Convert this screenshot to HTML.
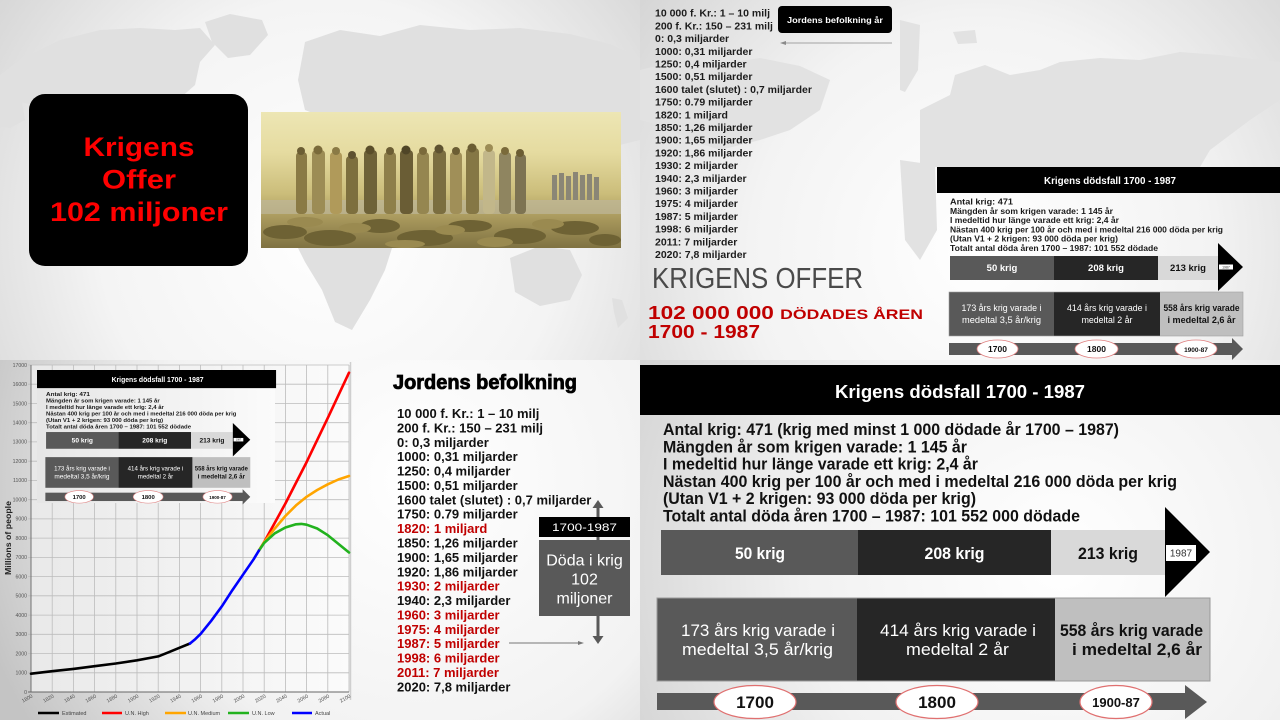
<!DOCTYPE html>
<html><head><meta charset="utf-8"><style>
html,body{margin:0;padding:0;background:#fff;}
svg{display:block;}
</style></head><body>
<svg width="1280" height="720" viewBox="0 0 1280 720" xmlns="http://www.w3.org/2000/svg" font-family="'Liberation Sans', Arial, sans-serif">
<defs>
 <radialGradient id="gTL" cx="330" cy="230" r="420" gradientUnits="userSpaceOnUse">
  <stop offset="0" stop-color="#ffffff"/><stop offset="0.55" stop-color="#f4f4f4"/><stop offset="1" stop-color="#d4d4d4"/>
 </radialGradient>
 <radialGradient id="gTR" cx="980" cy="250" r="420" gradientUnits="userSpaceOnUse">
  <stop offset="0" stop-color="#ffffff"/><stop offset="0.55" stop-color="#f3f3f3"/><stop offset="1" stop-color="#d6d6d6"/>
 </radialGradient>
 <radialGradient id="gBL" cx="420" cy="480" r="460" gradientUnits="userSpaceOnUse">
  <stop offset="0" stop-color="#ffffff"/><stop offset="0.6" stop-color="#f2f2f2"/><stop offset="1" stop-color="#c4c4c4"/>
 </radialGradient>
 <radialGradient id="gBR" cx="1060" cy="560" r="520" gradientUnits="userSpaceOnUse">
  <stop offset="0" stop-color="#ffffff"/><stop offset="0.5" stop-color="#f1f1f1"/><stop offset="1" stop-color="#cdcdcd"/>
 </radialGradient>
 <linearGradient id="gPlot" x1="0" y1="0" x2="1" y2="0">
  <stop offset="0" stop-color="#e9e9e9"/><stop offset="1" stop-color="#fbfbfb"/>
 </linearGradient>
 <linearGradient id="gMini" x1="0" y1="0" x2="1" y2="0">
  <stop offset="0" stop-color="#e6e6e6"/><stop offset="1" stop-color="#fbfbfb"/>
 </linearGradient>
 <linearGradient id="gPaint" x1="0" y1="0" x2="0" y2="1">
  <stop offset="0" stop-color="#ede6b4"/><stop offset="0.3" stop-color="#e5dba0"/><stop offset="0.6" stop-color="#cbbd7a"/><stop offset="0.8" stop-color="#a5955a"/><stop offset="1" stop-color="#7f7242"/>
 </linearGradient>
</defs>

<!-- ============ TOP LEFT ============ -->
<rect x="0" y="0" width="640" height="360" fill="url(#gTL)"/>
<g fill="#e0e0e0">
 <path d="M20,60 L60,40 L100,30 L140,28 L175,30 L200,28 L215,45 L200,62 L195,85 L178,100 L160,115 L140,128 L118,133 L100,125 L80,118 L55,110 L30,104 L10,100 L0,95 L0,75 Z"/>
 <path d="M205,22 L230,14 L262,20 L268,35 L250,55 L228,58 L212,42 Z"/>
 <path d="M305,42 L340,30 L380,36 L420,25 L470,30 L520,28 L570,34 L610,44 L640,58 L640,140 L600,150 L560,140 L520,130 L480,126 L440,132 L400,130 L360,125 L330,120 L305,110 L298,80 Z"/>
 <path d="M298,248 L392,248 L385,270 L370,300 L352,330 L335,322 L322,290 L305,262 Z"/>
 <path d="M510,258 L540,246 L570,250 L582,275 L570,300 L540,306 L515,292 Z"/>
 <path d="M612,298 L622,300 L628,318 L618,328 L614,312 Z"/>
 <path d="M0,95 L20,92 L25,120 L10,128 L0,126 Z"/>
</g>
<rect x="29" y="94" width="219" height="172" rx="16" fill="#000"/>
<g font-weight="bold" font-size="27" fill="#ff0000" text-anchor="middle">
 <text x="139" y="156" textLength="111" lengthAdjust="spacingAndGlyphs">Krigens</text>
 <text x="139" y="188.5" textLength="74" lengthAdjust="spacingAndGlyphs">Offer</text>
 <text x="139" y="221" textLength="178" lengthAdjust="spacingAndGlyphs">102 miljoner</text>
</g>
<!-- painting -->
<rect x="261" y="112" width="360" height="136" fill="url(#gPaint)"/>
<rect x="261" y="200" width="360" height="14" fill="#bdb69a" opacity="0.7"/>
<g>
 <rect x="296" y="152" width="11" height="62" rx="4" fill="#8a7a45"/><circle cx="301" cy="151" r="4" fill="#6b5d33"/>
 <rect x="312" y="150" width="13" height="64" rx="4" fill="#9c8c55"/><circle cx="318" cy="150" r="4.5" fill="#7a6a3a"/>
 <rect x="330" y="152" width="12" height="62" rx="4" fill="#b09a5a"/><circle cx="336" cy="151" r="4" fill="#8a7a45"/>
 <rect x="346" y="156" width="12" height="58" rx="4" fill="#7d6f3e"/><circle cx="352" cy="155" r="4" fill="#5e5230"/>
 <rect x="364" y="150" width="13" height="64" rx="4" fill="#6e6238"/><circle cx="370" cy="150" r="4.5" fill="#5a4e2a"/>
 <rect x="384" y="152" width="12" height="62" rx="4" fill="#8e7f4a"/><circle cx="390" cy="151" r="4" fill="#6b5d33"/>
 <rect x="400" y="150" width="13" height="64" rx="4" fill="#6a5d35"/><circle cx="406" cy="150" r="4.5" fill="#4f4527"/>
 <rect x="417" y="152" width="12" height="62" rx="4" fill="#958650"/><circle cx="423" cy="151" r="4" fill="#7a6a3a"/>
 <rect x="433" y="150" width="13" height="64" rx="4" fill="#7b6e40"/><circle cx="439" cy="149" r="4.5" fill="#5e5230"/>
 <rect x="450" y="152" width="12" height="62" rx="4" fill="#a08f58"/><circle cx="456" cy="151" r="4" fill="#6b5d33"/>
 <rect x="466" y="148" width="13" height="66" rx="4" fill="#857745"/><circle cx="472" cy="148" r="4.5" fill="#6b5d33"/>
 <rect x="483" y="150" width="12" height="64" rx="4" fill="#c2b78a"/><circle cx="489" cy="148" r="4" fill="#9c8c55"/>
 <rect x="499" y="152" width="12" height="62" rx="4" fill="#8f8560"/><circle cx="505" cy="151" r="4" fill="#7a6a3a"/>
 <rect x="515" y="154" width="11" height="60" rx="4" fill="#7d7352"/><circle cx="520" cy="153" r="4" fill="#6b5d33"/>
 <g fill="#8a8676"><rect x="552" y="175" width="5" height="25"/><rect x="559" y="173" width="5" height="27"/><rect x="566" y="176" width="5" height="24"/><rect x="573" y="172" width="5" height="28"/><rect x="580" y="175" width="5" height="25"/><rect x="587" y="174" width="5" height="26"/><rect x="594" y="177" width="5" height="23"/></g>
 <g fill="#6e6234"><ellipse cx="285" cy="232" rx="22" ry="7"/><ellipse cx="330" cy="238" rx="26" ry="8"/><ellipse cx="380" cy="226" rx="20" ry="7"/><ellipse cx="425" cy="238" rx="28" ry="8"/><ellipse cx="470" cy="226" rx="22" ry="6"/><ellipse cx="520" cy="236" rx="26" ry="8"/><ellipse cx="575" cy="228" rx="24" ry="7"/><ellipse cx="605" cy="240" rx="16" ry="6"/></g>
 <g fill="#9a8a50"><ellipse cx="305" cy="222" rx="18" ry="5"/><ellipse cx="355" cy="228" rx="16" ry="5"/><ellipse cx="405" cy="244" rx="20" ry="4"/><ellipse cx="450" cy="230" rx="15" ry="5"/><ellipse cx="495" cy="242" rx="18" ry="5"/><ellipse cx="548" cy="224" rx="16" ry="5"/></g>
</g>

<!-- ============ TOP RIGHT ============ -->
<rect x="640" y="0" width="640" height="360" fill="url(#gTR)"/>
<g fill="#e2e2e2">
 <path d="M920,110 L950,95 L955,75 L985,65 L1010,75 L1040,70 L1060,62 L1100,58 L1140,60 L1180,52 L1220,55 L1260,60 L1280,62 L1280,100 L1250,120 L1230,135 L1210,150 L1200,167 L920,167 Z"/>
 <path d="M900,20 L920,25 L918,70 L905,92 L900,90 Z"/>
 <path d="M953,32 L975,30 L977,43 L958,44 Z"/>
 <path d="M640,70 L680,60 L720,64 L760,58 L800,66 L830,80 L820,110 L790,130 L760,140 L720,150 L690,140 L660,125 L640,120 Z"/>
 <path d="M900,160 L935,165 L937,230 L920,260 L905,240 Z"/>
</g>
<g font-weight="bold" font-size="10.5" fill="#1c1c1c">
 <text x="655" y="16.7">10 000 f. Kr.: 1 – 10 milj</text>
 <text x="655" y="29.4">200 f. Kr.: 150 – 231 milj</text>
 <text x="655" y="42.1">0: 0,3 miljarder</text>
 <text x="655" y="54.8">1000: 0,31 miljarder</text>
 <text x="655" y="67.5">1250: 0,4 miljarder</text>
 <text x="655" y="80.2">1500: 0,51 miljarder</text>
 <text x="655" y="92.9">1600 talet (slutet) : 0,7 miljarder</text>
 <text x="655" y="105.6">1750: 0.79 miljarder</text>
 <text x="655" y="118.3">1820: 1 miljard</text>
 <text x="655" y="131">1850: 1,26 miljarder</text>
 <text x="655" y="143.7">1900: 1,65 miljarder</text>
 <text x="655" y="156.4">1920: 1,86 miljarder</text>
 <text x="655" y="169.1">1930: 2 miljarder</text>
 <text x="655" y="181.8">1940: 2,3 miljarder</text>
 <text x="655" y="194.5">1960: 3 miljarder</text>
 <text x="655" y="207.2">1975: 4 miljarder</text>
 <text x="655" y="219.9">1987: 5 miljarder</text>
 <text x="655" y="232.6">1998: 6 miljarder</text>
 <text x="655" y="245.3">2011: 7 miljarder</text>
 <text x="655" y="258">2020: 7,8 miljarder</text>
</g>
<rect x="778" y="6" width="114" height="27" rx="4" fill="#000"/>
<text x="835" y="23" font-size="8.5" font-weight="bold" fill="#fff" text-anchor="middle" textLength="96" lengthAdjust="spacingAndGlyphs">Jordens befolkning år</text>
<line x1="784" y1="43" x2="892" y2="43" stroke="#8a8a8a" stroke-width="0.8"/>
<polygon points="780,43 786,41 786,45" fill="#8a8a8a"/>
<text x="652" y="288" font-size="29" fill="#4a4a4a" textLength="211" lengthAdjust="spacingAndGlyphs">KRIGENS OFFER</text>
<text x="648" y="319" font-weight="bold" fill="#c00000" textLength="275" lengthAdjust="spacingAndGlyphs"><tspan font-size="18">102 000 000 </tspan><tspan font-size="14">DÖDADES ÅREN</tspan></text>
<text x="648" y="338" font-size="18" font-weight="bold" fill="#c00000" textLength="112" lengthAdjust="spacingAndGlyphs">1700 - 1987</text>

<!-- TR panel -->
<g>
 <rect x="937" y="167" width="343" height="26" fill="#000"/>
 <text x="1110" y="184" font-size="10" font-weight="bold" fill="#fff" text-anchor="middle" textLength="132" lengthAdjust="spacingAndGlyphs">Krigens dödsfall 1700 - 1987</text>
 <g font-size="8.5" font-weight="bold" fill="#1a1a1a">
  <text x="950" y="204.5" textLength="63" lengthAdjust="spacingAndGlyphs">Antal krig: 471</text>
  <text x="950" y="213.8" textLength="163" lengthAdjust="spacingAndGlyphs">Mängden år som krigen varade: 1 145 år</text>
  <text x="950" y="223.1" textLength="169" lengthAdjust="spacingAndGlyphs">I medeltid hur länge varade ett krig: 2,4 år</text>
  <text x="950" y="232.4" textLength="273" lengthAdjust="spacingAndGlyphs">Nästan 400 krig per 100 år och med i medeltal 216 000 döda per krig</text>
  <text x="950" y="241.7" textLength="168" lengthAdjust="spacingAndGlyphs">(Utan V1 + 2 krigen: 93 000 döda per krig)</text>
  <text x="950" y="251" textLength="208" lengthAdjust="spacingAndGlyphs">Totalt antal döda åren 1700 – 1987: 101 552 dödade</text>
 </g>
 <rect x="950" y="256" width="104" height="24" fill="#595959"/>
 <rect x="1054" y="256" width="104" height="24" fill="#262626"/>
 <rect x="1158" y="256" width="60" height="24" fill="#d9d9d9"/>
 <polygon points="1218,243 1243,267 1218,291" fill="#000"/>
 <rect x="1219" y="264.5" width="14" height="5" fill="#fff"/>
 <text x="1226" y="268.5" font-size="3.5" fill="#333" text-anchor="middle">1987</text>
 <g font-size="9.5" font-weight="bold" text-anchor="middle">
  <text x="1002" y="271" fill="#fff">50 krig</text>
  <text x="1106" y="271" fill="#fff">208 krig</text>
  <text x="1188" y="271" fill="#111">213 krig</text>
 </g>
 <rect x="949" y="292" width="105" height="44" fill="#595959"/>
 <rect x="1054" y="292" width="106" height="44" fill="#262626"/>
 <rect x="1160" y="292" width="83" height="44" fill="#bfbfbf"/>
 <rect x="949" y="292" width="294" height="44" fill="none" stroke="#a0a0a0" stroke-width="0.6"/>
 <g font-size="8.8" text-anchor="middle">
  <text x="1001.5" y="311" fill="#fff" textLength="80" lengthAdjust="spacingAndGlyphs">173 års krig varade i</text>
  <text x="1001.5" y="323" fill="#fff" textLength="79" lengthAdjust="spacingAndGlyphs">medeltal 3,5 år/krig</text>
  <text x="1107" y="311" fill="#fff" textLength="80" lengthAdjust="spacingAndGlyphs">414 års krig varade i</text>
  <text x="1107" y="323" fill="#fff">medeltal 2 år</text>
  <text x="1201.5" y="311" fill="#111" font-weight="bold" textLength="76" lengthAdjust="spacingAndGlyphs">558 års krig varade</text>
  <text x="1201.5" y="323" fill="#111" font-weight="bold" textLength="68" lengthAdjust="spacingAndGlyphs">i medeltal 2,6 år</text>
 </g>
 <rect x="949" y="343" width="284" height="12" fill="#595959"/>
 <polygon points="1232,338 1243,349 1232,360" fill="#595959"/>
 <ellipse cx="997.5" cy="349" rx="20.5" ry="9" fill="#fff" stroke="#e08080" stroke-width="0.8"/>
 <ellipse cx="1096.5" cy="349" rx="21.5" ry="9" fill="#fff" stroke="#e08080" stroke-width="0.8"/>
 <ellipse cx="1196" cy="349" rx="21" ry="9" fill="#fff" stroke="#e08080" stroke-width="0.8"/>
 <g font-weight="bold" text-anchor="middle" fill="#111">
  <text x="997.5" y="352.2" font-size="8.5">1700</text>
  <text x="1096.5" y="352.2" font-size="8.5">1800</text>
  <text x="1196" y="351.8" font-size="6.5">1900-87</text>
 </g>
</g>

<!-- ============ BOTTOM LEFT ============ -->
<rect x="0" y="360" width="640" height="360" fill="url(#gBL)"/>
<rect x="31" y="365" width="318" height="327" fill="url(#gPlot)"/>
<g stroke="#bcbcbc" stroke-width="0.8">
 <line x1="52.2" y1="365" x2="52.2" y2="692"/><line x1="73.4" y1="365" x2="73.4" y2="692"/><line x1="94.6" y1="365" x2="94.6" y2="692"/><line x1="115.8" y1="365" x2="115.8" y2="692"/><line x1="137" y1="365" x2="137" y2="692"/><line x1="158.2" y1="365" x2="158.2" y2="692"/><line x1="179.4" y1="365" x2="179.4" y2="692"/><line x1="200.6" y1="365" x2="200.6" y2="692"/><line x1="221.8" y1="365" x2="221.8" y2="692"/><line x1="243" y1="365" x2="243" y2="692"/><line x1="264.2" y1="365" x2="264.2" y2="692"/><line x1="285.4" y1="365" x2="285.4" y2="692"/><line x1="306.6" y1="365" x2="306.6" y2="692"/><line x1="327.8" y1="365" x2="327.8" y2="692"/><line x1="349" y1="365" x2="349" y2="692"/>
 <line x1="28" y1="672.8" x2="349" y2="672.8"/><line x1="28" y1="653.5" x2="349" y2="653.5"/><line x1="28" y1="634.3" x2="349" y2="634.3"/><line x1="28" y1="615.1" x2="349" y2="615.1"/><line x1="28" y1="595.8" x2="349" y2="595.8"/><line x1="28" y1="576.6" x2="349" y2="576.6"/><line x1="28" y1="557.4" x2="349" y2="557.4"/><line x1="28" y1="538.1" x2="349" y2="538.1"/><line x1="28" y1="518.9" x2="349" y2="518.9"/><line x1="28" y1="499.7" x2="349" y2="499.7"/><line x1="28" y1="480.4" x2="349" y2="480.4"/><line x1="28" y1="461.2" x2="349" y2="461.2"/><line x1="28" y1="441.9" x2="349" y2="441.9"/><line x1="28" y1="422.7" x2="349" y2="422.7"/><line x1="28" y1="403.5" x2="349" y2="403.5"/><line x1="28" y1="384.2" x2="349" y2="384.2"/><line x1="28" y1="365" x2="349" y2="365"/>
</g>
<line x1="31" y1="365" x2="31" y2="692" stroke="#666" stroke-width="0.9"/>
<line x1="28" y1="692" x2="349" y2="692" stroke="#666" stroke-width="0.9"/>
<line x1="350.5" y1="362" x2="350.5" y2="700" stroke="#cfcfcf" stroke-width="1.5"/>
<g font-size="5.2" fill="#555" text-anchor="end">
 <text x="27" y="693.8">0</text><text x="27" y="674.6">1000</text><text x="27" y="655.3">2000</text><text x="27" y="636.1">3000</text><text x="27" y="616.9">4000</text><text x="27" y="597.6">5000</text><text x="27" y="578.4">6000</text><text x="27" y="559.2">7000</text><text x="27" y="539.9">8000</text><text x="27" y="520.7">9000</text><text x="27" y="501.5">10000</text><text x="27" y="482.2">11000</text><text x="27" y="463">12000</text><text x="27" y="443.7">13000</text><text x="27" y="424.5">14000</text><text x="27" y="405.3">15000</text><text x="27" y="386">16000</text><text x="27" y="366.8">17000</text>
</g>
<g font-size="5.2" fill="#555" text-anchor="end">
 <text transform="translate(33,697) rotate(-30)">1800</text>
 <text transform="translate(54.2,697) rotate(-30)">1820</text>
 <text transform="translate(75.4,697) rotate(-30)">1840</text>
 <text transform="translate(96.6,697) rotate(-30)">1860</text>
 <text transform="translate(117.8,697) rotate(-30)">1880</text>
 <text transform="translate(139,697) rotate(-30)">1900</text>
 <text transform="translate(160.2,697) rotate(-30)">1920</text>
 <text transform="translate(181.4,697) rotate(-30)">1940</text>
 <text transform="translate(202.6,697) rotate(-30)">1960</text>
 <text transform="translate(223.8,697) rotate(-30)">1980</text>
 <text transform="translate(245,697) rotate(-30)">2000</text>
 <text transform="translate(266.2,697) rotate(-30)">2020</text>
 <text transform="translate(287.4,697) rotate(-30)">2040</text>
 <text transform="translate(308.6,697) rotate(-30)">2060</text>
 <text transform="translate(329.8,697) rotate(-30)">2080</text>
 <text transform="translate(351,697) rotate(-30)">2100</text>
</g>
<text transform="translate(11,538) rotate(-90)" font-size="8.5" font-weight="bold" fill="#222" text-anchor="middle" textLength="74" lengthAdjust="spacingAndGlyphs">Millions of people</text>
<g fill="none" stroke-width="2.6" stroke-linejoin="round" stroke-linecap="round">
 <polyline stroke="#ff0000" points="258.9,550.6 264.2,542 285.4,503.5 306.6,462.1 327.8,417.9 349,372.7"/>
 <polyline stroke="#ffa500" points="258.9,550.6 264.2,542 274.8,528.5 285.4,516 296,505.4 306.6,496.8 317.2,490 327.8,484.3 338.4,479.5 349,476"/>
 <polyline stroke="#22b21e" points="258.9,550.6 264.2,542.9 274.8,533.3 285.4,527.5 296,524.3 301.3,523.9 306.6,524.7 317.2,528.5 327.8,535.2 338.4,543.9 349,552.5"/>
 <polyline stroke="#000000" points="31,673.7 52.2,671.2 73.4,668.9 94.6,666.2 115.8,663.5 137,660.3 158.2,656.4 168.8,652.2 179.4,647.8 190,643.5"/>
 <polyline stroke="#0000ff" points="190,643.5 195.3,639.1 200.6,633.9 211.2,620.8 221.8,606.4 232.4,590.1 243,574.7 253.6,559.3 258.9,550.6"/>
</g>
<g stroke-width="2.6">
 <line x1="38" y1="713" x2="59" y2="713" stroke="#000"/>
 <line x1="102" y1="713" x2="122" y2="713" stroke="#ff0000"/>
 <line x1="165" y1="713" x2="186" y2="713" stroke="#ffa500"/>
 <line x1="228" y1="713" x2="249" y2="713" stroke="#22b21e"/>
 <line x1="292" y1="713" x2="312" y2="713" stroke="#0000ff"/>
</g>
<g font-size="5.5" fill="#444">
 <text x="62" y="715">Estimated</text>
 <text x="125" y="715">U.N. High</text>
 <text x="188" y="715">U.N. Medium</text>
 <text x="252" y="715">U.N. Low</text>
 <text x="315" y="715">Actual</text>
</g>
<!-- mini slide overlay -->
<rect x="37" y="387" width="238" height="116" fill="url(#gMini)"/>
<g transform="translate(37,370) scale(0.697) translate(-937,-167)">
 <rect x="937" y="167" width="343" height="26" fill="#000"/>
 <text x="1110" y="184" font-size="10" font-weight="bold" fill="#fff" text-anchor="middle" textLength="132" lengthAdjust="spacingAndGlyphs">Krigens dödsfall 1700 - 1987</text>
 <g font-size="8.5" font-weight="bold" fill="#1a1a1a">
  <text x="950" y="204.5" textLength="63" lengthAdjust="spacingAndGlyphs">Antal krig: 471</text>
  <text x="950" y="213.8" textLength="163" lengthAdjust="spacingAndGlyphs">Mängden år som krigen varade: 1 145 år</text>
  <text x="950" y="223.1" textLength="169" lengthAdjust="spacingAndGlyphs">I medeltid hur länge varade ett krig: 2,4 år</text>
  <text x="950" y="232.4" textLength="273" lengthAdjust="spacingAndGlyphs">Nästan 400 krig per 100 år och med i medeltal 216 000 döda per krig</text>
  <text x="950" y="241.7" textLength="168" lengthAdjust="spacingAndGlyphs">(Utan V1 + 2 krigen: 93 000 döda per krig)</text>
  <text x="950" y="251" textLength="208" lengthAdjust="spacingAndGlyphs">Totalt antal döda åren 1700 – 1987: 101 552 dödade</text>
 </g>
 <rect x="950" y="256" width="104" height="24" fill="#595959"/>
 <rect x="1054" y="256" width="104" height="24" fill="#262626"/>
 <rect x="1158" y="256" width="60" height="24" fill="#d9d9d9"/>
 <polygon points="1218,243 1243,267 1218,291" fill="#000"/>
 <rect x="1219" y="264.5" width="14" height="5" fill="#fff"/>
 <text x="1226" y="268.5" font-size="3.5" fill="#333" text-anchor="middle">1987</text>
 <g font-size="9.5" font-weight="bold" text-anchor="middle">
  <text x="1002" y="271" fill="#fff">50 krig</text>
  <text x="1106" y="271" fill="#fff">208 krig</text>
  <text x="1188" y="271" fill="#111">213 krig</text>
 </g>
 <rect x="949" y="292" width="105" height="44" fill="#595959"/>
 <rect x="1054" y="292" width="106" height="44" fill="#262626"/>
 <rect x="1160" y="292" width="83" height="44" fill="#bfbfbf"/>
 <g font-size="8.8" text-anchor="middle">
  <text x="1001.5" y="311" fill="#fff" textLength="80" lengthAdjust="spacingAndGlyphs">173 års krig varade i</text>
  <text x="1001.5" y="323" fill="#fff" textLength="79" lengthAdjust="spacingAndGlyphs">medeltal 3,5 år/krig</text>
  <text x="1107" y="311" fill="#fff" textLength="80" lengthAdjust="spacingAndGlyphs">414 års krig varade i</text>
  <text x="1107" y="323" fill="#fff">medeltal 2 år</text>
  <text x="1201.5" y="311" fill="#111" font-weight="bold" textLength="76" lengthAdjust="spacingAndGlyphs">558 års krig varade</text>
  <text x="1201.5" y="323" fill="#111" font-weight="bold" textLength="68" lengthAdjust="spacingAndGlyphs">i medeltal 2,6 år</text>
 </g>
 <rect x="949" y="343" width="284" height="12" fill="#595959"/>
 <polygon points="1232,338 1243,349 1232,360" fill="#595959"/>
 <ellipse cx="997.5" cy="349" rx="20.5" ry="9" fill="#fff" stroke="#e08080" stroke-width="0.8"/>
 <ellipse cx="1096.5" cy="349" rx="21.5" ry="9" fill="#fff" stroke="#e08080" stroke-width="0.8"/>
 <ellipse cx="1196" cy="349" rx="21" ry="9" fill="#fff" stroke="#e08080" stroke-width="0.8"/>
 <g font-weight="bold" text-anchor="middle" fill="#111">
  <text x="997.5" y="352.2" font-size="8.5">1700</text>
  <text x="1096.5" y="352.2" font-size="8.5">1800</text>
  <text x="1196" y="351.8" font-size="6.5">1900-87</text>
 </g>
</g>
<!-- right text -->
<text x="393" y="389" font-size="20" font-weight="bold" fill="#000" stroke="#000" stroke-width="0.8" textLength="184" lengthAdjust="spacingAndGlyphs">Jordens befolkning</text>
<g font-weight="bold" font-size="13" fill="#111">
 <text x="397" y="418">10 000 f. Kr.: 1 – 10 milj</text>
 <text x="397" y="432.4">200 f. Kr.: 150 – 231 milj</text>
 <text x="397" y="446.8">0: 0,3 miljarder</text>
 <text x="397" y="461.2">1000: 0,31 miljarder</text>
 <text x="397" y="475.6">1250: 0,4 miljarder</text>
 <text x="397" y="490">1500: 0,51 miljarder</text>
 <text x="397" y="504.3">1600 talet (slutet) : 0,7 miljarder</text>
 <text x="397" y="518.7">1750: 0.79 miljarder</text>
 <text x="397" y="533.1" fill="#c00000">1820: 1 miljard</text>
 <text x="397" y="547.5">1850: 1,26 miljarder</text>
 <text x="397" y="561.9">1900: 1,65 miljarder</text>
 <text x="397" y="576.3">1920: 1,86 miljarder</text>
 <text x="397" y="590.7" fill="#c00000">1930: 2 miljarder</text>
 <text x="397" y="605.1">1940: 2,3 miljarder</text>
 <text x="397" y="619.5" fill="#c00000">1960: 3 miljarder</text>
 <text x="397" y="633.9" fill="#c00000">1975: 4 miljarder</text>
 <text x="397" y="648.2" fill="#c00000">1987: 5 miljarder</text>
 <text x="397" y="662.6" fill="#c00000">1998: 6 miljarder</text>
 <text x="397" y="677" fill="#c00000">2011: 7 miljarder</text>
 <text x="397" y="691.4">2020: 7,8 miljarder</text>
</g>
<line x1="598" y1="506" x2="598" y2="638" stroke="#595959" stroke-width="3"/>
<polygon points="598,500 592.5,508 603.5,508" fill="#595959"/>
<polygon points="598,644 592.5,636 603.5,636" fill="#595959"/>
<rect x="539" y="517" width="91" height="20" fill="#000"/>
<text x="584.5" y="531" font-size="11" fill="#fff" text-anchor="middle" textLength="65" lengthAdjust="spacingAndGlyphs">1700-1987</text>
<rect x="539" y="540" width="91" height="76" fill="#595959"/>
<g font-size="16" fill="#fff" text-anchor="middle">
 <text x="584.5" y="565.5">Döda i krig</text>
 <text x="584.5" y="584.5">102</text>
 <text x="584.5" y="603.5">miljoner</text>
</g>
<line x1="509" y1="643" x2="580" y2="643" stroke="#777" stroke-width="0.9"/>
<polygon points="584,643 578,641 578,645" fill="#777"/>

<!-- ============ BOTTOM RIGHT ============ -->
<rect x="640" y="360" width="640" height="360" fill="url(#gBR)"/>
<rect x="640" y="365" width="640" height="50" fill="#000"/>
<text x="960" y="398" font-size="18" font-weight="bold" fill="#fff" text-anchor="middle" textLength="250" lengthAdjust="spacingAndGlyphs">Krigens dödsfall 1700 - 1987</text>
<g font-size="16.5" font-weight="bold" fill="#111">
 <text x="663" y="435" textLength="456" lengthAdjust="spacingAndGlyphs">Antal krig: 471 (krig med minst 1 000 dödade år 1700 – 1987)</text>
 <text x="663" y="452.3" textLength="304" lengthAdjust="spacingAndGlyphs">Mängden år som krigen varade: 1 145 år</text>
 <text x="663" y="469.6" textLength="315" lengthAdjust="spacingAndGlyphs">I medeltid hur länge varade ett krig: 2,4 år</text>
 <text x="663" y="486.9" textLength="514" lengthAdjust="spacingAndGlyphs">Nästan 400 krig per 100 år och med i medeltal 216 000 döda per krig</text>
 <text x="663" y="504.2" textLength="313" lengthAdjust="spacingAndGlyphs">(Utan V1 + 2 krigen: 93 000 döda per krig)</text>
 <text x="663" y="521.5" textLength="417" lengthAdjust="spacingAndGlyphs">Totalt antal döda åren 1700 – 1987: 101 552 000 dödade</text>
</g>
<rect x="661" y="530" width="197" height="45" fill="#595959"/>
<rect x="858" y="530" width="193" height="45" fill="#262626"/>
<rect x="1051" y="530" width="114" height="45" fill="#d9d9d9"/>
<polygon points="1165,507 1210,552 1165,597" fill="#000"/>
<rect x="1166" y="545" width="30" height="16" fill="#fff"/>
<text x="1181" y="556.5" font-size="10" fill="#333" text-anchor="middle">1987</text>
<g font-size="16.5" font-weight="bold" text-anchor="middle">
 <text x="760" y="559" fill="#fff" textLength="50" lengthAdjust="spacingAndGlyphs">50 krig</text>
 <text x="954.5" y="559" fill="#fff" textLength="60" lengthAdjust="spacingAndGlyphs">208 krig</text>
 <text x="1108" y="559" fill="#111" textLength="60" lengthAdjust="spacingAndGlyphs">213 krig</text>
</g>
<rect x="657" y="598" width="200" height="83" fill="#595959"/>
<rect x="857" y="598" width="198" height="83" fill="#262626"/>
<rect x="1055" y="598" width="155" height="83" fill="#bfbfbf"/>
<rect x="657" y="598" width="553" height="83" fill="none" stroke="#9a9a9a" stroke-width="1"/>
<g font-size="17" text-anchor="middle">
 <text x="758" y="636" fill="#fff" textLength="154" lengthAdjust="spacingAndGlyphs">173 års krig varade i</text>
 <text x="757.5" y="655" fill="#fff" textLength="151" lengthAdjust="spacingAndGlyphs">medeltal 3,5 år/krig</text>
 <text x="958" y="636" fill="#fff" textLength="156" lengthAdjust="spacingAndGlyphs">414 års krig varade i</text>
 <text x="957.5" y="655" fill="#fff" textLength="103" lengthAdjust="spacingAndGlyphs">medeltal 2 år</text>
 <text x="1131.5" y="636" fill="#111" font-weight="bold" textLength="143" lengthAdjust="spacingAndGlyphs">558 års krig varade</text>
 <text x="1137" y="655" fill="#111" font-weight="bold" textLength="130" lengthAdjust="spacingAndGlyphs">i medeltal 2,6 år</text>
</g>
<rect x="657" y="693" width="530" height="17" fill="#595959"/>
<polygon points="1185,685 1207,702 1185,719" fill="#595959"/>
<ellipse cx="755" cy="702" rx="41" ry="16.5" fill="#fff" stroke="#e07070" stroke-width="1.2"/>
<ellipse cx="937" cy="702" rx="41" ry="16.5" fill="#fff" stroke="#e07070" stroke-width="1.2"/>
<ellipse cx="1116" cy="702" rx="36" ry="16.5" fill="#fff" stroke="#e07070" stroke-width="1.2"/>
<g font-weight="bold" text-anchor="middle" fill="#111">
 <text x="755" y="708" font-size="17">1700</text>
 <text x="937" y="708" font-size="17">1800</text>
 <text x="1116" y="707" font-size="13">1900-87</text>
</g>
</svg>
</body></html>
